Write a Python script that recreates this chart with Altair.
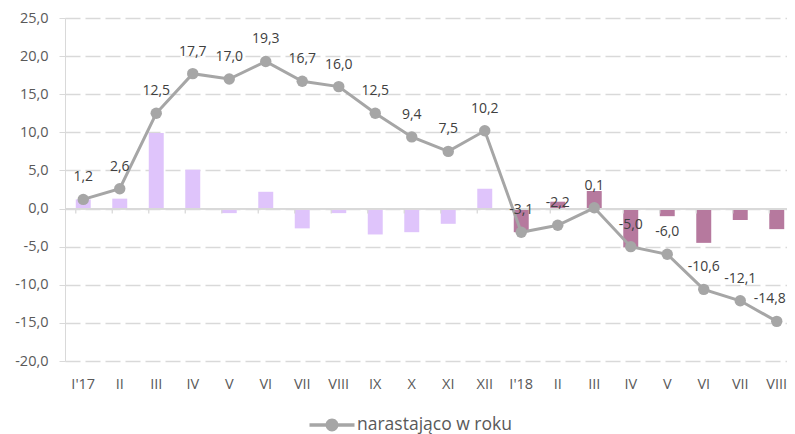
import json
import altair as alt
import pandas as pd

# ---- data ----
tick_labels = ["I'17", "II", "III", "IV", "V", "VI", "VII", "VIII", "IX", "X", "XI", "XII",
               "I'18", "II", "III", "IV", "V", "VI", "VII", "VIII"]
years = ["2017"] * 12 + ["2018"] * 8
monthly = [1.2, 1.3, 9.9, 5.1, -0.6, 2.2, -2.6, -0.6, -3.4, -3.1, -2.0, 2.6,
           -3.1, 0.9, 2.3, -5.1, -1.0, -4.5, -1.5, -2.7]
cumulative = [1.2, 2.6, 12.5, 17.7, 17.0, 19.3, 16.7, 16.0, 12.5, 9.4, 7.5, 10.2,
              -3.1, -2.2, 0.1, -5.0, -6.0, -10.6, -12.1, -14.8]
y_ticks = [-20, -15, -10, -5, 0, 5, 10, 15, 20, 25]
series_name = "narastająco w roku"

keys = [f"{i + 1:02d}" for i in range(len(tick_labels))]
df = pd.DataFrame({
    "key": keys,
    "year": years,
    "monthly": monthly,
    "cum": cumulative,
    "label": [f"{v:.1f}".replace(".", ",") for v in cumulative],
    "series": [series_name] * len(keys),
})

FONT = "Open Sans"
GRID = "#D9D9D9"
LINE = "#A6A6A6"
LABEL = "#595959"

x_label_expr = json.dumps(tick_labels) + "[toNumber(datum.value) - 1]"
y_label_expr = "replace(replace(format(datum.value, '.1f'), '.', ','), '\u2212', '-')"

x_axis = alt.Axis(title=None, labelExpr=x_label_expr, ticks=False, domain=False,
                  labelAngle=0, labelPadding=16, labelFontSize=14.5, labelColor=LABEL,
                  labelFont=FONT, grid=False)
# band range runs a little past the drawn width, as the reference's last band is cut by the edge
x_scale = alt.Scale(paddingInner=0.59, paddingOuter=0.295, round=False, range=[0, 730])
y_scale = alt.Scale(domain=[-20, 25], nice=False, zero=False)
y_axis = alt.Axis(title=None, values=y_ticks, labelExpr=y_label_expr, labelOverlap=False,
                  grid=True, gridDash=[15, 5], gridColor=GRID, gridWidth=1.3,
                  tickColor=GRID, tickSize=6, domainColor=GRID, labelPadding=11,
                  labelFontSize=14.5, labelColor=LABEL, labelFont=FONT)


def X(**kw):
    return alt.X("key:N", sort=keys, scale=x_scale, axis=x_axis, **kw)


def Y(field):
    return alt.Y(field, scale=y_scale, axis=y_axis)


def Y0():
    return alt.YDatum(0, scale=y_scale, axis=y_axis)


base = alt.Chart(df)

bars = base.mark_bar().encode(
    x=X(),
    y=Y("monthly:Q"),
    fill=alt.Fill("year:N", scale=alt.Scale(domain=["2017", "2018"], range=["#DFC4FB", "#B6799E"]),
                  legend=None),
)

zero = base.mark_rule(color=GRID, strokeWidth=1.3).encode(y=Y0())

ticks = base.mark_rule(color=GRID, strokeWidth=1.3, y2Offset=5).encode(
    x=X(bandPosition=0),
    y=Y0(),
    y2=alt.datum(0),
)

line = base.mark_line(color=LINE, strokeWidth=3).encode(
    x=X(),
    y=Y("cum:Q"),
)

legend_symbol = ("M-1.5,-0.11 L1.5,-0.11 L1.5,0.11 L-1.5,0.11 Z "
                 "M0.43,0 A0.43,0.43 0 1 1 -0.43,0 A0.43,0.43 0 1 1 0.43,0 Z")

points = base.mark_circle(size=130, opacity=1).encode(
    x=X(),
    y=Y("cum:Q"),
    color=alt.Color("series:N", scale=alt.Scale(range=[LINE]),
                    legend=alt.Legend(title=None, orient="none", legendX=251, legendY=391,
                                      symbolType=legend_symbol, symbolSize=900,
                                      symbolOpacity=1, labelFontSize=17.5, labelColor=LABEL,
                                      labelFont=FONT, labelOffset=9)),
)

last_key = keys[-1]
labels = base.transform_filter(alt.datum.key != last_key).mark_text(
    dy=-22, fontSize=14, color="#404040", font=FONT
).encode(x=X(), y=Y("cum:Q"), text="label:N")

last_label = base.transform_filter(alt.datum.key == last_key).mark_text(
    dy=-22, dx=-7, fontSize=14, color="#404040", font=FONT
).encode(x=X(), y=Y("cum:Q"), text="label:N")

chart = alt.layer(bars, zero, ticks, line, points, labels, last_label).properties(
    width=722, height=343,
    autosize=alt.AutoSizeParams(type="none"),
    padding={"left": 57, "top": 10, "right": 0, "bottom": 73},
).configure_view(stroke=None)

chart.save("out.html", embed_options={"renderer": "svg", "actions": False})
